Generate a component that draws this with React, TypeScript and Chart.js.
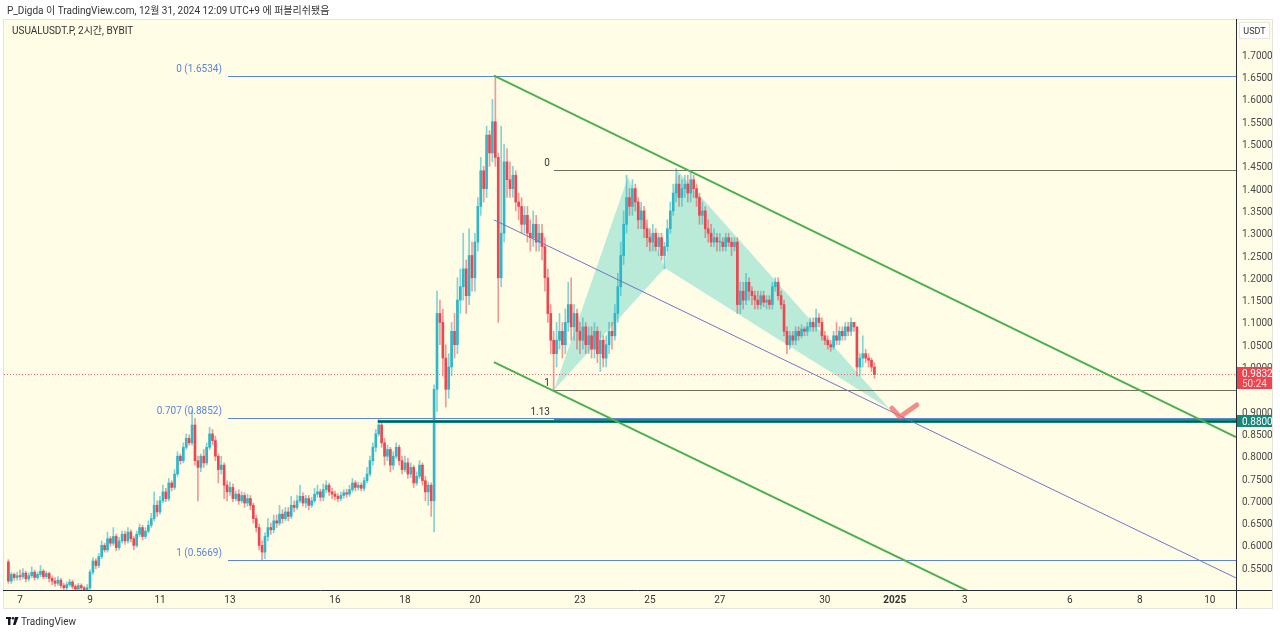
import React, { useEffect, useRef } from 'react';
import { Chart, registerables } from 'chart.js';
Chart.register(...registerables);

// ---- Candle data (2h candles, index 0 = Dec 7 00:00) ----
const firstIndex = -4;
const firstOpen = 0.563;
const closes = [
  0.520, 0.535, 0.528, 0.532,
  0.530, 0.538, 0.525, 0.532, 0.540, 0.528, 0.535, 0.542, 0.530, 0.537, 0.526, 0.520,
  0.515, 0.522, 0.510, 0.505, 0.512, 0.518, 0.508, 0.502, 0.510, 0.505, 0.498, 0.505,
  0.540, 0.565, 0.555, 0.575, 0.600, 0.590, 0.615, 0.605, 0.620, 0.595, 0.610, 0.625,
  0.610, 0.630, 0.615, 0.600, 0.625, 0.640, 0.620, 0.632, 0.645, 0.660, 0.690, 0.675,
  0.700, 0.720, 0.705, 0.740, 0.730, 0.760, 0.800, 0.790, 0.820, 0.840, 0.830, 0.870,
  0.790, 0.775, 0.800, 0.785, 0.820, 0.850, 0.835, 0.800, 0.770, 0.780, 0.735, 0.720,
  0.730, 0.705, 0.715, 0.700, 0.712, 0.695, 0.705, 0.690, 0.660, 0.640, 0.600, 0.585,
  0.620, 0.640, 0.635, 0.655, 0.650, 0.670, 0.660, 0.675, 0.665, 0.690, 0.685, 0.700,
  0.710, 0.695, 0.705, 0.690, 0.700, 0.715, 0.720, 0.708, 0.725, 0.735, 0.720, 0.715,
  0.710, 0.705, 0.712, 0.718, 0.715, 0.725, 0.740, 0.730, 0.735, 0.728, 0.745, 0.760,
  0.790, 0.820, 0.850, 0.870, 0.830, 0.800, 0.815, 0.780, 0.800, 0.820, 0.790, 0.770,
  0.785, 0.760, 0.775, 0.740, 0.755, 0.780, 0.745, 0.720, 0.735, 0.700, 0.950, 1.120,
  1.10, 1.02, 0.95, 1.00, 1.08, 1.05, 1.15, 1.18, 1.22, 1.16, 1.25, 1.20,
  1.28, 1.36, 1.44, 1.40, 1.52, 1.48, 1.55, 1.47, 1.20, 1.30, 1.46, 1.42,
  1.40, 1.43, 1.37, 1.36, 1.32, 1.34, 1.30, 1.29, 1.32, 1.28, 1.30, 1.27,
  1.20, 1.12, 1.06, 1.03, 1.06, 1.08, 1.05, 1.10, 1.14, 1.09, 1.12, 1.08,
  1.06, 1.09, 1.05, 1.07, 1.04, 1.08, 1.03, 1.06, 1.02, 1.05, 1.08, 1.07,
  1.12, 1.18, 1.25, 1.32, 1.38, 1.36, 1.40, 1.37, 1.33, 1.35, 1.31, 1.29,
  1.28, 1.30, 1.27, 1.29, 1.25, 1.27, 1.31, 1.35, 1.39, 1.41, 1.38, 1.40,
  1.41, 1.39, 1.42, 1.40, 1.38, 1.34, 1.35, 1.31, 1.30, 1.28, 1.29, 1.28,
  1.28, 1.27, 1.29, 1.28, 1.27, 1.28, 1.14, 1.17, 1.15, 1.19, 1.17, 1.16,
  1.15, 1.14, 1.16, 1.145, 1.15, 1.14, 1.18, 1.19, 1.16, 1.14, 1.08, 1.05,
  1.07, 1.06, 1.08, 1.07, 1.085, 1.08, 1.09, 1.10, 1.09, 1.11, 1.10, 1.07,
  1.06, 1.05, 1.045, 1.07, 1.06, 1.08, 1.07, 1.09, 1.08, 1.10, 1.09, 1.00,
  1.02, 1.03, 1.02, 1.015, 1.00, 0.9832,
];
const highs = [
  0.568, 0.540, 0.538, 0.540,
  0.545, 0.548, 0.542, 0.538, 0.552, 0.545, 0.540, 0.555, 0.546, 0.542, 0.540, 0.532,
  0.528, 0.530, 0.526, 0.515, 0.518, 0.524, 0.522, 0.512, 0.515, 0.514, 0.508, 0.512,
  0.545, 0.572, 0.570, 0.582, 0.610, 0.605, 0.630, 0.620, 0.640, 0.625, 0.618, 0.632,
  0.632, 0.640, 0.635, 0.620, 0.632, 0.648, 0.645, 0.640, 0.655, 0.672, 0.720, 0.700,
  0.710, 0.735, 0.728, 0.750, 0.745, 0.770, 0.810, 0.805, 0.830, 0.850, 0.848, 0.903,
  0.885, 0.800, 0.805, 0.815, 0.830, 0.865, 0.860, 0.845, 0.805, 0.800, 0.785, 0.745,
  0.742, 0.738, 0.722, 0.725, 0.720, 0.718, 0.715, 0.712, 0.695, 0.668, 0.648, 0.610,
  0.628, 0.660, 0.650, 0.668, 0.668, 0.690, 0.680, 0.685, 0.685, 0.710, 0.700, 0.712,
  0.735, 0.718, 0.712, 0.712, 0.708, 0.728, 0.735, 0.726, 0.738, 0.745, 0.740, 0.728,
  0.722, 0.716, 0.720, 0.725, 0.726, 0.735, 0.750, 0.745, 0.742, 0.740, 0.752, 0.775,
  0.800, 0.830, 0.860, 0.885, 0.880, 0.840, 0.825, 0.820, 0.810, 0.830, 0.825, 0.800,
  0.800, 0.795, 0.785, 0.780, 0.765, 0.790, 0.785, 0.755, 0.742, 0.740, 0.960, 1.170,
  1.15, 1.13, 1.05, 1.03, 1.10, 1.12, 1.20, 1.22, 1.30, 1.24, 1.31, 1.28,
  1.30, 1.38, 1.47, 1.45, 1.54, 1.53, 1.60, 1.653, 1.48, 1.54, 1.50, 1.49,
  1.46, 1.45, 1.44, 1.39, 1.38, 1.36, 1.36, 1.33, 1.35, 1.34, 1.32, 1.32,
  1.29, 1.22, 1.14, 1.08, 1.10, 1.12, 1.10, 1.13, 1.19, 1.20, 1.14, 1.13,
  1.10, 1.11, 1.10, 1.09, 1.09, 1.10, 1.09, 1.08, 1.07, 1.07, 1.10, 1.10,
  1.14, 1.21, 1.28, 1.35, 1.43, 1.40, 1.42, 1.41, 1.38, 1.37, 1.36, 1.33,
  1.31, 1.32, 1.31, 1.30, 1.30, 1.28, 1.33, 1.37, 1.41, 1.445, 1.43, 1.42,
  1.43, 1.43, 1.44, 1.43, 1.41, 1.39, 1.37, 1.36, 1.33, 1.32, 1.31, 1.30,
  1.30, 1.29, 1.30, 1.30, 1.29, 1.29, 1.29, 1.19, 1.19, 1.21, 1.20, 1.18,
  1.17, 1.17, 1.17, 1.17, 1.16, 1.16, 1.19, 1.20, 1.20, 1.17, 1.15, 1.09,
  1.08, 1.08, 1.09, 1.09, 1.095, 1.09, 1.10, 1.11, 1.11, 1.13, 1.12, 1.11,
  1.08, 1.07, 1.06, 1.08, 1.10, 1.09, 1.09, 1.10, 1.10, 1.11, 1.10, 1.09,
  1.03, 1.07, 1.04, 1.03, 1.02, 1.01,
];
const lows = [
  0.515, 0.515, 0.522, 0.522,
  0.522, 0.525, 0.518, 0.520, 0.528, 0.522, 0.524, 0.530, 0.525, 0.526, 0.518, 0.512,
  0.508, 0.510, 0.504, 0.498, 0.500, 0.508, 0.502, 0.495, 0.498, 0.500, 0.492, 0.495,
  0.500, 0.535, 0.548, 0.550, 0.570, 0.585, 0.585, 0.598, 0.600, 0.588, 0.590, 0.605,
  0.602, 0.605, 0.608, 0.590, 0.596, 0.620, 0.612, 0.615, 0.628, 0.640, 0.655, 0.665,
  0.670, 0.695, 0.698, 0.700, 0.722, 0.725, 0.755, 0.782, 0.785, 0.815, 0.825, 0.825,
  0.780, 0.700, 0.765, 0.775, 0.780, 0.815, 0.825, 0.790, 0.740, 0.760, 0.705, 0.700,
  0.712, 0.698, 0.700, 0.692, 0.695, 0.685, 0.688, 0.680, 0.650, 0.630, 0.590, 0.567,
  0.570, 0.610, 0.625, 0.628, 0.640, 0.645, 0.650, 0.655, 0.655, 0.660, 0.675, 0.680,
  0.695, 0.688, 0.685, 0.680, 0.685, 0.695, 0.708, 0.700, 0.700, 0.718, 0.712, 0.705,
  0.702, 0.698, 0.700, 0.706, 0.708, 0.710, 0.720, 0.722, 0.724, 0.722, 0.722, 0.740,
  0.755, 0.780, 0.810, 0.845, 0.820, 0.780, 0.790, 0.765, 0.770, 0.795, 0.780, 0.760,
  0.765, 0.750, 0.752, 0.730, 0.735, 0.750, 0.735, 0.700, 0.690, 0.665, 0.630, 0.900,
  1.05, 0.98, 0.91, 0.93, 0.98, 1.02, 1.03, 1.12, 1.15, 1.12, 1.14, 1.17,
  1.17, 1.26, 1.34, 1.37, 1.38, 1.45, 1.46, 1.45, 1.10, 1.18, 1.28, 1.38,
  1.38, 1.38, 1.35, 1.33, 1.30, 1.30, 1.28, 1.26, 1.27, 1.26, 1.26, 1.24,
  1.17, 1.10, 1.03, 0.948, 1.00, 1.04, 1.02, 1.03, 1.08, 1.06, 1.06, 1.04,
  1.03, 1.04, 1.03, 1.03, 1.02, 1.02, 1.01, 0.99, 1.00, 1.00, 1.03, 1.04,
  1.06, 1.10, 1.16, 1.23, 1.30, 1.34, 1.34, 1.35, 1.31, 1.31, 1.29, 1.27,
  1.26, 1.26, 1.26, 1.25, 1.24, 1.22, 1.26, 1.30, 1.34, 1.37, 1.36, 1.36,
  1.38, 1.37, 1.37, 1.38, 1.36, 1.32, 1.32, 1.29, 1.28, 1.27, 1.27, 1.26,
  1.26, 1.26, 1.26, 1.27, 1.25, 1.26, 1.12, 1.12, 1.13, 1.14, 1.15, 1.14,
  1.13, 1.13, 1.13, 1.135, 1.13, 1.13, 1.13, 1.17, 1.15, 1.13, 1.07, 1.03,
  1.04, 1.05, 1.05, 1.06, 1.065, 1.07, 1.07, 1.08, 1.08, 1.08, 1.09, 1.06,
  1.05, 1.04, 1.035, 1.04, 1.05, 1.05, 1.06, 1.06, 1.07, 1.07, 1.08, 0.98,
  0.98, 1.00, 1.01, 1.00, 0.99, 0.975,
];

// ---- Axes ----
const xTickValues = [0, 24, 48, 72, 108, 132, 156, 192, 216, 240, 276, 300, 324, 360, 384, 408];
const xTickLabels = ['7', '9', '11', '13', '16', '18', '20', '23', '25', '27', '30', '2025', '3', '6', '8', '10'];
const yTickValues = [0.55, 0.6, 0.65, 0.7, 0.75, 0.8, 0.85, 0.9, 1.0, 1.05, 1.1, 1.15, 1.2, 1.25, 1.3, 1.35, 1.4, 1.45, 1.5, 1.55, 1.6, 1.65, 1.7];
const xRange = [-5.5, 417];
const yRange = [0.5, 1.7803];

// ---- Drawings ----
const fibStart = 71.3;
const fibLevels = [1.6534, 0.8852, 0.5669];
const fibLabels = ['0 (1.6534)', '0.707 (0.8852)', '1 (0.5669)'];
const extStart = 183.1;
const extLevels = [1.4417, 0.9484, 0.8843];
const extLabels = ['0', '1', '1.13'];
const supportStart = 122.7;
const supportLevel = 0.88;
const patternX = [183.1, 208.5, 221.1, 225.3, 298.3];
const patternY = [0.9484, 1.426, 1.222, 1.442, 0.905];
const channelUpper = [[162.5, 1.6534], [417, 0.843]];
const channelLower = [[162.5, 1.011], [345, 0.435]];
const midLine = [[162.5, 1.33], [417, 0.527]];
const checkMark = [[299.0, 0.908], [301.7, 0.888], [307.5, 0.915]];
const lastPrice = 0.9832;
const countdown = '50:24';

const UP = '#2DB7C8';
const DOWN = '#EA4752';
const FONT = "Roboto, 'Noto Sans CJK KR', sans-serif";

export default function App() {
  const ref = useRef<HTMLCanvasElement>(null);

  useEffect(() => {
    const canvas = ref.current!;
    const candles = closes.map((c, k) => {
      const o = k === 0 ? firstOpen : closes[k - 1];
      return { i: firstIndex + k, o, c, h: highs[k], l: lows[k] };
    });

    const overlay = {
      id: 'overlay',
      beforeDraw(chart: any) {
        const ctx = chart.ctx;
        ctx.save();
        ctx.fillStyle = '#ffffff';
        ctx.fillRect(0, 0, chart.width, chart.height);
        ctx.fillStyle = '#FFFDE6';
        ctx.fillRect(3, 19, 1270, 590);
        ctx.strokeStyle = '#E4E4DC';
        ctx.lineWidth = 1;
        ctx.strokeRect(3.5, 19.5, 1269, 589);
        ctx.restore();
      },
      beforeDatasetsDraw(chart: any) {
        const ctx = chart.ctx;
        const xs = chart.scales.x, ys = chart.scales.y;
        const a = chart.chartArea;
        ctx.save();
        ctx.beginPath();
        ctx.rect(a.left, a.top, a.right - a.left, a.bottom - a.top);
        ctx.clip();
        const tri = (ids: number[]) => {
          ctx.beginPath();
          ids.forEach((k, n) => {
            const X = xs.getPixelForValue(patternX[k]);
            const Y = ys.getPixelForValue(patternY[k]);
            if (n === 0) ctx.moveTo(X, Y); else ctx.lineTo(X, Y);
          });
          ctx.closePath();
          ctx.fillStyle = 'rgba(0, 186, 176, 0.27)';
          ctx.fill();
        };
        tri([0, 1, 2]);
        tri([2, 3, 4]);
        // current price dotted line
        const py = Math.round(ys.getPixelForValue(lastPrice)) + 0.5;
        ctx.strokeStyle = 'rgba(234, 71, 82, 0.8)';
        ctx.setLineDash([1, 2]);
        ctx.lineWidth = 1;
        ctx.beginPath();
        ctx.moveTo(a.left, py);
        ctx.lineTo(a.right, py);
        ctx.stroke();
        ctx.restore();
      },
      afterDatasetsDraw(chart: any) {
        const ctx = chart.ctx;
        const xs = chart.scales.x, ys = chart.scales.y;
        const a = chart.chartArea;
        const X = (v: number) => xs.getPixelForValue(v);
        const Y = (v: number) => ys.getPixelForValue(v);
        ctx.save();
        ctx.beginPath();
        ctx.rect(a.left, a.top, a.right - a.left, a.bottom - a.top);
        ctx.clip();
        const hline = (x0: number, lvl: number, color: string, w: number) => {
          const y = Math.round(Y(lvl)) + (w % 2 ? 0.5 : 0);
          ctx.strokeStyle = color;
          ctx.lineWidth = w;
          ctx.beginPath();
          ctx.moveTo(X(x0), y);
          ctx.lineTo(a.right, y);
          ctx.stroke();
        };
        hline(supportStart, supportLevel, '#12877A', 3);
        extLevels.forEach((l) => hline(extStart, l, '#707060', 1));
        fibLevels.forEach((l) => hline(fibStart, l, '#5C85D8', 1));
        ctx.strokeStyle = '#1E3F66';
        ctx.lineWidth = 1;
        ctx.beginPath();
        ctx.moveTo(X(supportStart), Math.round(Y(supportLevel)) + 0.5);
        ctx.lineTo(a.right, Math.round(Y(supportLevel)) + 0.5);
        ctx.stroke();

        const seg = (pts: number[][], color: string, w: number) => {
          ctx.strokeStyle = color;
          ctx.lineWidth = w;
          ctx.beginPath();
          ctx.moveTo(X(pts[0][0]), Y(pts[0][1]));
          ctx.lineTo(X(pts[1][0]), Y(pts[1][1]));
          ctx.stroke();
        };
        seg(channelUpper, '#4CAF50', 2);
        seg(channelLower, '#4CAF50', 2);
        seg(midLine, '#7474C8', 1);

        ctx.strokeStyle = 'rgba(238, 104, 104, 0.75)';
        ctx.lineWidth = 5;
        ctx.lineCap = 'round';
        ctx.lineJoin = 'round';
        ctx.beginPath();
        checkMark.forEach(([i, p], n) => (n === 0 ? ctx.moveTo(X(i), Y(p)) : ctx.lineTo(X(i), Y(p))));
        ctx.stroke();

        ctx.font = `10px ${FONT}`;
        ctx.textAlign = 'right';
        ctx.textBaseline = 'middle';
        ctx.fillStyle = '#5C85D8';
        fibLevels.forEach((l, k) => ctx.fillText(fibLabels[k], X(fibStart) - 6, Y(l) - 6.5));
        ctx.fillStyle = '#333333';
        extLevels.forEach((l, k) => ctx.fillText(extLabels[k], X(extStart) - 4, Y(l) - 6.5));
        ctx.restore();
      },
      afterDraw(chart: any) {
        const ctx = chart.ctx;
        const ys = chart.scales.y;
        const a = chart.chartArea;
        ctx.save();
        ctx.strokeStyle = '#2A2E39';
        ctx.lineWidth = 1;
        ctx.beginPath();
        ctx.moveTo(3, a.bottom + 0.5);
        ctx.lineTo(1272, a.bottom + 0.5);
        ctx.moveTo(a.right + 0.5, 19);
        ctx.lineTo(a.right + 0.5, 609);
        ctx.stroke();

        // last price label
        const lp = ys.getPixelForValue(lastPrice);
        ctx.fillStyle = '#EE4450';
        ctx.fillRect(a.right + 1, Math.round(lp) - 7, 35, 22);
        ctx.fillStyle = '#ffffff';
        ctx.font = `10px ${FONT}`;
        ctx.textAlign = 'left';
        ctx.textBaseline = 'middle';
        ctx.fillText(lastPrice.toFixed(4), a.right + 6, Math.round(lp) + 0.5);
        ctx.fillStyle = '#FBD4D6';
        ctx.fillText(countdown, a.right + 6, Math.round(lp) + 10);

        // support label
        const sp = ys.getPixelForValue(supportLevel);
        ctx.fillStyle = '#15887A';
        ctx.fillRect(a.right + 1, Math.round(sp) - 6, 35, 12);
        ctx.fillStyle = '#ffffff';
        ctx.fillText(supportLevel.toFixed(4), a.right + 6, Math.round(sp) + 1);

        // currency box
        ctx.fillStyle = '#ffffff';
        ctx.fillRect(a.right + 3, 22, 30, 16);
        ctx.strokeStyle = '#E6E6E6';
        ctx.strokeRect(a.right + 3.5, 22.5, 30, 16);
        ctx.fillStyle = '#333333';
        ctx.font = `9px ${FONT}`;
        ctx.textAlign = 'center';
        ctx.fillText('USDT', a.right + 18.5, 31.5);

        // texts
        ctx.textAlign = 'left';
        ctx.font = `10px ${FONT}`;
        ctx.fillStyle = '#333333';
        ctx.fillText('P_Digda 이 TradingView.com, 12월 31, 2024 12:09 UTC+9 에 퍼블리쉬됐음', 7, 11.5);
        ctx.fillText('USUALUSDT.P, 2시간, BYBIT', 12, 31);

        // logo
        ctx.fillStyle = '#131722';
        ctx.fillRect(6, 617, 5, 2);
        ctx.fillRect(8, 617, 2.5, 8);
        ctx.beginPath();
        ctx.arc(13, 618.2, 1.3, 0, Math.PI * 2);
        ctx.fill();
        ctx.beginPath();
        ctx.moveTo(15, 617);
        ctx.lineTo(18.5, 617);
        ctx.lineTo(15.5, 625);
        ctx.lineTo(13, 625);
        ctx.closePath();
        ctx.fill();
        ctx.fillStyle = '#333333';
        ctx.font = `10px ${FONT}`;
        ctx.fillText('TradingView', 21, 622);
        ctx.restore();
      },
    };

    const chart = new Chart(canvas, {
      type: 'bar',
      data: {
        datasets: [
          {
            label: 'wicks',
            data: candles.map((d) => ({ x: d.i, y: [d.l, d.h] })) as any,
            backgroundColor: candles.map((d) => (d.c >= d.o ? 'rgba(45,183,200,0.6)' : 'rgba(234,71,82,0.55)')),
            barThickness: 1,
            grouped: false,
            order: 2,
          } as any,
          {
            label: 'bodies',
            data: candles.map((d) => ({ x: d.i, y: [d.o, d.c] })) as any,
            backgroundColor: candles.map((d) => (d.c >= d.o ? UP : DOWN)),
            barThickness: 2,
            minBarLength: 1,
            grouped: false,
            order: 1,
          } as any,
        ],
      },
      options: {
        animation: false,
        responsive: false,
        maintainAspectRatio: false,
        devicePixelRatio: 1,
        layout: { padding: { left: 4, top: 19, right: 0, bottom: 24 } },
        plugins: { legend: { display: false }, tooltip: { enabled: false } },
        scales: {
          x: {
            type: 'linear',
            min: xRange[0],
            max: xRange[1],
            offset: false,
            grid: { display: false, drawTicks: false },
            border: { display: false },
            afterBuildTicks: (s: any) => {
              s.ticks = xTickValues.map((v) => ({ value: v }));
            },
            afterFit: (s: any) => {
              s.height = 20;
            },
            ticks: {
              autoSkip: false,
              maxRotation: 0,
              padding: 4,
              color: '#333333',
              font: (c: any) => ({
                family: FONT,
                size: 10,
                weight: c.tick && c.tick.value === 300 ? 'bold' : 'normal',
              }),
              callback: (v: any) => {
                const k = xTickValues.indexOf(Number(v));
                return k >= 0 ? xTickLabels[k] : '';
              },
            },
          },
          y: {
            position: 'right',
            min: yRange[0],
            max: yRange[1],
            grid: { display: false, drawTicks: false },
            border: { display: false },
            afterBuildTicks: (s: any) => {
              s.ticks = yTickValues.map((v) => ({ value: v }));
            },
            afterFit: (s: any) => {
              s.width = 44;
            },
            ticks: {
              autoSkip: false,
              padding: 6,
              labelOffset: 1.5,
              color: '#4A4A4A',
              font: { family: FONT, size: 10 },
              callback: (v: any) => Number(v).toFixed(4),
            },
          },
        },
      } as any,
      plugins: [overlay],
    });
    return () => chart.destroy();
  }, []);

  return (
    <div style={{ position: 'fixed', left: 0, top: 0, width: 1280, height: 634 }}>
      <canvas ref={ref} width={1280} height={634} style={{ width: 1280, height: 634, display: 'block' }} />
    </div>
  );
}
